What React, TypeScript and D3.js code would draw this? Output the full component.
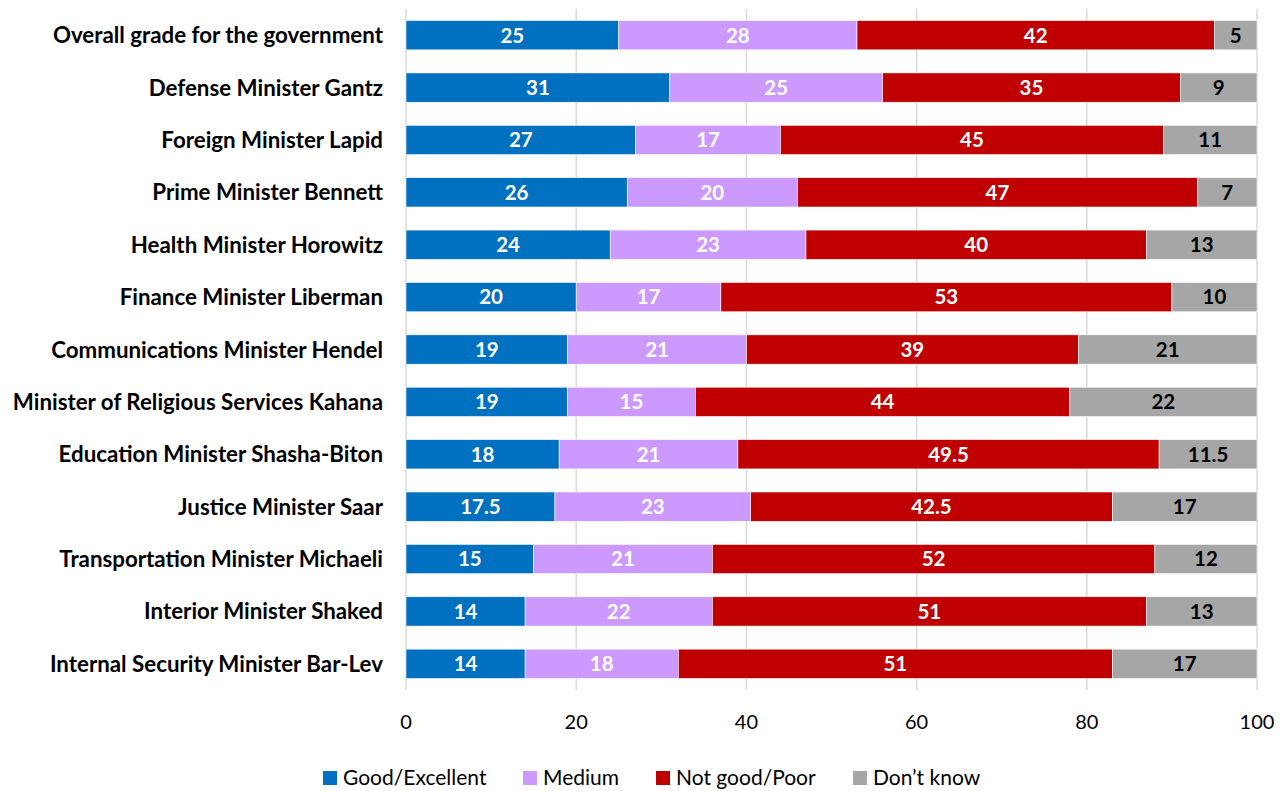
import React from "react";
import * as d3 from "d3";

const categories = [
  "Overall grade for the government",
  "Defense Minister Gantz",
  "Foreign Minister Lapid",
  "Prime Minister Bennett",
  "Health Minister Horowitz",
  "Finance Minister Liberman",
  "Communications Minister Hendel",
  "Minister of Religious Services Kahana",
  "Education Minister Shasha-Biton",
  "Justice Minister Saar",
  "Transportation Minister Michaeli",
  "Interior Minister Shaked",
  "Internal Security Minister Bar-Lev",
];
const goodExcellent = [25, 31, 27, 26, 24, 20, 19, 19, 18, 17.5, 15, 14, 14];
const medium = [28, 25, 17, 20, 23, 17, 21, 15, 21, 23, 21, 22, 18];
const notGoodPoor = [42, 35, 45, 47, 40, 53, 39, 44, 49.5, 42.5, 52, 51, 51];
const dontKnow = [5, 9, 11, 7, 13, 10, 21, 22, 11.5, 17, 12, 13, 17];
const seriesNames = ["Good/Excellent", "Medium", "Not good/Poor", "Don\u2019t know"];
const seriesColors = ["#0070C0", "#CC99FF", "#C00000", "#A6A6A6"];
const labelColors = ["#FFFFFF", "#FFFFFF", "#FFFFFF", "#000000"];
const xTicks = [0, 20, 40, 60, 80, 100];

const FONT = "Lato, 'Open Sans', sans-serif";

export default function App() {
  const W = 1288, H = 791;
  const left = 406, right = 1257, top = 9, bottom = 690;
  const x = d3.scaleLinear().domain([0, 100]).range([left, right]);
  const y = d3.scaleBand<string>().domain(categories).range([top, bottom]).paddingInner(0.44).paddingOuter(0.22);
  const allSeries = [goodExcellent, medium, notGoodPoor, dontKnow];
  const rows = categories.map((c, i) => {
    const obj: any = { cat: c };
    seriesNames.forEach((s, k) => (obj[s] = allSeries[k][i]));
    return obj;
  });
  const stacked = d3.stack<any>().keys(seriesNames)(rows);

  const legendX = [323, 523, 656, 853];

  return (
    <svg width={W} height={H} style={{ position: "absolute", left: 0, top: 0 }} fontFamily={FONT}>
      <rect width={W} height={H} fill="#fff" />
      {xTicks.map((t) => (
        <line key={t} x1={x(t)} x2={x(t)} y1={top} y2={bottom} stroke="#D9D9D9" strokeWidth={1.5} />
      ))}
      {stacked.map((layer, k) => (
        <g key={k}>
          {layer.map((d, i) => {
            const x0 = x(d[0]), x1 = x(d[1]);
            const yy = y(categories[i])!;
            return (
              <g key={i}>
                <rect x={x0} y={yy} width={x1 - x0} height={y.bandwidth()} fill={seriesColors[k]} stroke="#fff" strokeWidth={0.6} />
                <text x={(x0 + x1) / 2} y={yy + y.bandwidth() / 2} dy="0.36em" textAnchor="middle" fontSize={20.5} fontWeight={700} fill={labelColors[k]}>
                  {allSeries[k][i]}
                </text>
              </g>
            );
          })}
        </g>
      ))}
      {categories.map((c) => (
        <text key={c} x={383} y={y(c)! + y.bandwidth() / 2} dy="0.36em" textAnchor="end" fontSize={22.3} fontWeight={700} fill="#000">
          {c}
        </text>
      ))}
      {xTicks.map((t) => (
        <text key={t} x={x(t)} y={722} dy="0.36em" textAnchor="middle" fontSize={20} fill="#000">
          {t}
        </text>
      ))}
      {seriesNames.map((s, k) => (
        <g key={s}>
          <rect x={legendX[k]} y={771} width={14} height={14} fill={seriesColors[k]} />
          <text x={legendX[k] + 20} y={778} dy="0.34em" fontSize={21} fill="#000">
            {s}
          </text>
        </g>
      ))}
    </svg>
  );
}
